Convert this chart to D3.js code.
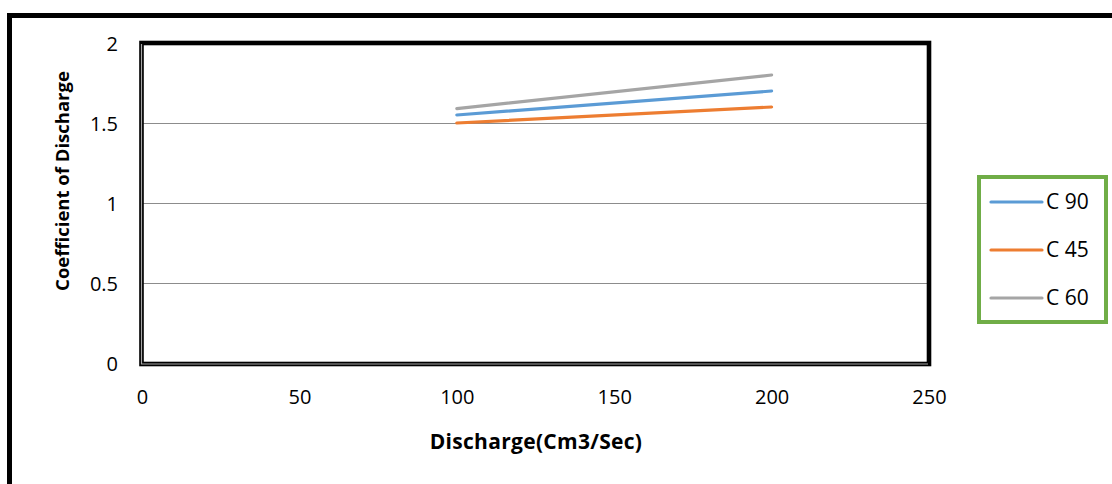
<!DOCTYPE html>
<html>
<head>
<meta charset="utf-8">
<script src="https://cdn.jsdelivr.net/npm/d3@7"></script>
<style>
  html, body { margin: 0; padding: 0; background: #fff; overflow: hidden; }
  svg { display: block; }
  text { font-family: "Open Sans", "Noto Sans", sans-serif; fill: #000; }
</style>
</head>
<body>
<svg id="chart" width="1112" height="484"></svg>
<script>
// Discharge (cm3/s) and coefficient of discharge for three notch angles
const discharge = [100, 200];
const c90 = [1.55, 1.70];
const c45 = [1.50, 1.60];
const c60 = [1.59, 1.80];
const seriesNames = ["C 90", "C 45", "C 60"];
const seriesColors = ["#5B9BD5", "#ED7D31", "#A5A5A5"];
const xTicks = [0, 50, 100, 150, 200, 250];
const yTicks = [0, 0.5, 1, 1.5, 2];
const yGrid = [0.5, 1, 1.5];

const series = [c90, c45, c60].map((vals, i) => ({
  name: seriesNames[i],
  color: seriesColors[i],
  points: discharge.map((d, j) => ({ x: d, y: vals[j] }))
}));

const svg = d3.select("#chart");

// Outer frame (runs past the right and bottom edges)
svg.append("rect")
  .attr("x", 9.5).attr("y", 15.5)
  .attr("width", 1200).attr("height", 700)
  .attr("fill", "none").attr("stroke", "#000").attr("stroke-width", 5);

const plot = { left: 142, right: 929, top: 43, bottom: 363 };

const x = d3.scaleLinear().domain([0, 250]).range([plot.left, plot.right]);
const y = d3.scaleLinear().domain([0, 2]).range([plot.bottom, plot.top]);

// Horizontal gridlines
svg.append("g").selectAll("line").data(yGrid).join("line")
  .attr("x1", plot.left).attr("x2", plot.right)
  .attr("y1", d => Math.round(y(d)) + 0.5).attr("y2", d => Math.round(y(d)) + 0.5)
  .attr("stroke", "#8c8c8c").attr("stroke-width", 1);

// Y tick labels
const yAxis = d3.axisLeft(y).tickValues(yTicks).tickSize(0).tickPadding(24)
  .tickFormat(d3.format("~g"));
const gy = svg.append("g").attr("transform", `translate(${plot.left},0)`).call(yAxis);
gy.select(".domain").remove();
gy.selectAll("text").style("font-size", "20px").attr("font-family", null).attr("dy", "0.35em");

// X tick labels
const xAxis = d3.axisBottom(x).tickValues(xTicks).tickSize(0).tickPadding(27)
  .tickFormat(d3.format("~g"));
const gx = svg.append("g").attr("transform", `translate(0,${plot.bottom})`).call(xAxis);
gx.select(".domain").remove();
gx.selectAll("text").style("font-size", "20px").attr("font-family", null);

// Plot area border: thick black frame with a grey rule through its left and bottom sides
svg.append("rect")
  .attr("x", plot.left - 0.5).attr("y", plot.top)
  .attr("width", plot.right - plot.left + 0.5).attr("height", plot.bottom - plot.top + 1)
  .attr("fill", "none").attr("stroke", "#000").attr("stroke-width", 4.6);
svg.append("path")
  .attr("d", `M${plot.left - 0.5},${plot.top + 1} V${plot.bottom + 1} H${plot.right - 1}`)
  .attr("fill", "none").attr("stroke", "#a6a6a6").attr("stroke-width", 1.2);

// Series lines
const line = d3.line().x(d => x(d.x)).y(d => y(d.y));
svg.append("g").selectAll("path").data(series).join("path")
  .attr("d", d => line(d.points))
  .attr("fill", "none")
  .attr("stroke", d => d.color)
  .attr("stroke-width", 3.2)
  .attr("stroke-linecap", "round");

// Axis titles
svg.append("text")
  .attr("x", 536).attr("y", 442).attr("dy", "0.35em")
  .attr("text-anchor", "middle")
  .style("font-size", "21px").style("font-weight", "bold")
  .style("letter-spacing", "0.3px")
  .text("Discharge(Cm3/Sec)");
svg.append("text")
  .attr("transform", "translate(63,181) rotate(-90)")
  .attr("dy", "0.35em")
  .attr("text-anchor", "middle")
  .style("font-size", "18.5px").style("font-weight", "bold")
  .text("Coefficient of Discharge");

// Legend
const legend = svg.append("g");
legend.append("rect")
  .attr("x", 979).attr("y", 177)
  .attr("width", 127).attr("height", 145)
  .attr("fill", "#fff").attr("stroke", "#70AD47").attr("stroke-width", 4);
const items = legend.selectAll("g.item").data(series).join("g")
  .attr("class", "item")
  .attr("transform", (d, i) => `translate(0,${202 + i * 48})`);
items.append("line")
  .attr("x1", 991).attr("x2", 1042)
  .attr("stroke", d => d.color).attr("stroke-width", 3.2).attr("stroke-linecap", "round");
items.append("text")
  .attr("x", 1046).attr("dy", "0.35em")
  .style("font-size", "21px")
  .text(d => d.name);
</script>
</body>
</html>
